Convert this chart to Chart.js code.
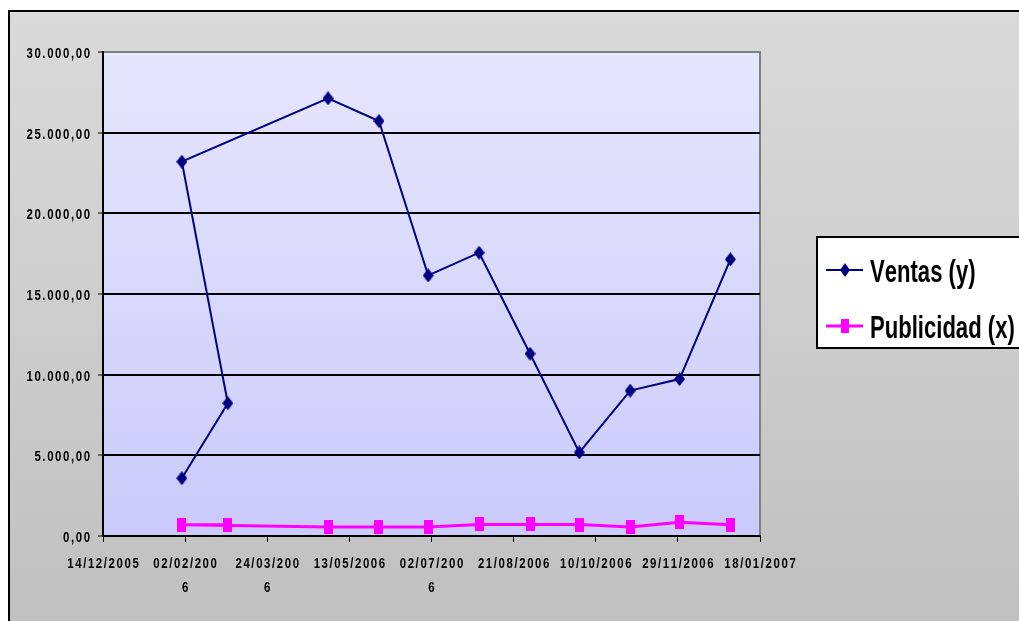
<!DOCTYPE html>
<html lang="es">
<head>
<meta charset="utf-8">
<title>Ventas y Publicidad</title>
<script src="https://cdn.jsdelivr.net/npm/chart.js@4.4.1/dist/chart.umd.min.js"></script>
<style>
  html, body { margin: 0; padding: 0; background: #ffffff; }
  #wrap { width: 1019px; height: 621px; position: relative; }
  canvas { display: block; }
</style>
</head>
<body>
<div id="wrap"><canvas id="grafico" width="1019" height="621"></canvas></div>
<script>
// Fechas de cada registro (dd/mm/aaaa)
const fechas = ['31/01/2006', '28/02/2006', '31/01/2006', '30/04/2006', '31/05/2006', '30/06/2006',
                '31/07/2006', '31/08/2006', '30/09/2006', '31/10/2006', '30/11/2006', '31/12/2006'];
// Ventas (y)
const ventas = [3580, 8230, 23200, 27130, 25720, 16150, 17560, 11300, 5180, 9010, 9730, 17150];
// Publicidad (x)
const publicidad = [700, 690, 700, 560, 560, 560, 720, 720, 710, 560, 850, 690];

// Etiquetas de los ejes
const xTickLabels = ['14/12/2005', ['02/02/200', '6'], ['24/03/200', '6'], '13/05/2006',
                     ['02/07/200', '6'], '21/08/2006', '10/10/2006', '29/11/2006', '18/01/2007'];
const yTickLabels = ['0,00', '5.000,00', '10.000,00', '15.000,00', '20.000,00', '25.000,00', '30.000,00'];

const serieNombres = ['Ventas (y)', 'Publicidad (x)'];

// El eje X cuenta días desde el 14/12/2005
const ORIGEN = Date.UTC(2005, 11, 14);
function diaDe(f) {
  const [d, m, a] = f.split('/').map(Number);
  return (Date.UTC(a, m - 1, d) - ORIGEN) / 86400000;
}
const puntos = (vals) => vals.map((v, i) => ({ x: diaDe(fechas[i]), y: v }));

const FUENTE = "'Liberation Sans', Arial, Helvetica, sans-serif";
const AZUL = '#000080';
const MAGENTA = '#ff00ff';

// Marcadores
function rombo(w, h, color) {
  const c = document.createElement('canvas');
  c.width = w; c.height = h;
  const g = c.getContext('2d');
  g.fillStyle = color;
  g.beginPath();
  g.moveTo(w / 2, 0); g.lineTo(w, h / 2); g.lineTo(w / 2, h); g.lineTo(0, h / 2);
  g.closePath(); g.fill();
  return c;
}
function rect(w, h, color) {
  const c = document.createElement('canvas');
  c.width = w; c.height = h;
  const g = c.getContext('2d');
  g.fillStyle = color;
  g.fillRect(0, 0, w, h);
  return c;
}
const marcaVentas = rombo(11, 14, AZUL);
const marcaPubli = rect(9, 14, MAGENTA);

// Texto negrita estrecho: escala horizontal + espaciado entre letras
function texto(ctx, str, x, y, size, align, sx, espacio) {
  ctx.save();
  ctx.font = 'bold ' + size + 'px ' + FUENTE;
  ctx.textBaseline = 'alphabetic';
  ctx.textAlign = 'left';
  ctx.fillStyle = '#000000';
  let ancho = 0;
  const anchos = [...str].map(ch => ctx.measureText(ch).width);
  anchos.forEach(w => { ancho += w; });
  const total = ancho * sx + espacio * (anchos.length - 1);
  let x0 = x;
  if (align === 'center') x0 = x - total / 2;
  else if (align === 'right') x0 = x - total;
  let cx = x0;
  [...str].forEach((ch, i) => {
    ctx.save();
    ctx.translate(cx, y);
    ctx.scale(sx, 1);
    ctx.fillText(ch, 0, 0);
    ctx.restore();
    cx += anchos[i] * sx + espacio;
  });
  ctx.restore();
}

// Fondo, marco, área de trazado, rótulos de ejes y leyenda
const decorado = {
  id: 'decorado',
  beforeDraw(chart) {
    const { ctx, chartArea: a } = chart;
    ctx.save();
    ctx.fillStyle = '#ffffff';
    ctx.fillRect(0, 0, chart.width, chart.height);
    const gf = ctx.createLinearGradient(0, 11, 0, chart.height);
    gf.addColorStop(0, '#dadada');
    gf.addColorStop(1, '#c0c0c0');
    ctx.fillStyle = gf;
    ctx.fillRect(9, 11, chart.width, chart.height);
    ctx.strokeStyle = '#000000';
    ctx.lineWidth = 2;
    ctx.beginPath();
    ctx.moveTo(9, chart.height + 5); ctx.lineTo(9, 11); ctx.lineTo(chart.width + 5, 11);
    ctx.stroke();
    const gp = ctx.createLinearGradient(0, a.top, 0, a.bottom);
    gp.addColorStop(0, '#e6e6fd');
    gp.addColorStop(1, '#cacafb');
    ctx.fillStyle = gp;
    ctx.fillRect(a.left, a.top, a.right - a.left, a.bottom - a.top);
    ctx.strokeStyle = '#808080';
    ctx.beginPath();
    ctx.moveTo(a.left, a.top); ctx.lineTo(a.right, a.top); ctx.lineTo(a.right, a.bottom);
    ctx.stroke();
    ctx.restore();
  },
  afterDraw(chart) {
    const ctx = chart.ctx;
    const sx = chart.scales.x, sy = chart.scales.y;

    // Rótulos del eje Y
    sy.ticks.forEach((t, i) => {
      const py = sy.getPixelForValue(t.value);
      texto(ctx, yTickLabels[i], sy.right - 13, py + 6, 15, 'right', 0.76, 1.6);
    });
    // Rótulos del eje X (algunos en dos líneas)
    sx.ticks.forEach((t, i) => {
      const px = sx.getPixelForValue(t.value);
      const lineas = [].concat(xTickLabels[i]);
      lineas.forEach((l, k) => {
        texto(ctx, l, px, sy.bottom + 32 + k * 24, 15, 'center', 0.76, 1.6);
      });
    });

    // Leyenda
    ctx.save();
    const bx = 817, by = 237, bw = 215, bh = 111;
    ctx.fillStyle = '#ffffff';
    ctx.fillRect(bx, by, bw, bh);
    ctx.strokeStyle = '#000000';
    ctx.lineWidth = 2;
    ctx.strokeRect(bx, by, bw, bh);
    const filas = [
      { y: 270, color: AZUL, marca: rombo(10, 14, AZUL), grosor: 2 },
      { y: 326, color: MAGENTA, marca: rect(8, 14, MAGENTA), grosor: 3 }
    ];
    filas.forEach((f, i) => {
      ctx.strokeStyle = f.color;
      ctx.lineWidth = f.grosor;
      ctx.beginPath();
      ctx.moveTo(826, f.y); ctx.lineTo(863, f.y);
      ctx.stroke();
      ctx.drawImage(f.marca, 845 - f.marca.width / 2, f.y - f.marca.height / 2);
      texto(ctx, serieNombres[i], 870, f.y + 12, 32, 'left', 0.69, 0);
    });
    ctx.restore();
  }
};

new Chart(document.getElementById('grafico'), {
  type: 'line',
  data: {
    datasets: [
      {
        label: serieNombres[0],
        data: puntos(ventas),
        borderColor: AZUL,
        backgroundColor: AZUL,
        borderWidth: 2,
        pointStyle: marcaVentas,
        tension: 0
      },
      {
        label: serieNombres[1],
        data: puntos(publicidad),
        borderColor: MAGENTA,
        backgroundColor: MAGENTA,
        borderWidth: 3,
        pointStyle: marcaPubli,
        tension: 0
      }
    ]
  },
  options: {
    responsive: false,
    animation: false,
    devicePixelRatio: 1,
    layout: { padding: { left: 10, top: 52, right: 259, bottom: 0 } },
    plugins: {
      legend: { display: false },
      tooltip: { enabled: false }
    },
    scales: {
      x: {
        type: 'linear',
        min: 0,
        max: 400,
        afterFit(s) { s.height = 85; },
        afterBuildTicks(s) { s.ticks = xTickLabels.map((_, i) => ({ value: i * 50 })); },
        ticks: { display: false },
        grid: { drawOnChartArea: false, drawTicks: true, tickLength: 6, color: '#000000', lineWidth: 1 },
        border: { color: '#000000', width: 2 }
      },
      y: {
        min: 0,
        max: 30000,
        afterFit(s) { s.width = 93; },
        afterBuildTicks(s) { s.ticks = yTickLabels.map((_, i) => ({ value: i * 5000 })); },
        ticks: { display: false },
        grid: {
          drawTicks: true,
          tickLength: 5,
          lineWidth: 2,
          tickWidth: 1,
          tickColor: '#000000',
          color: (c) => (c.tick && c.tick.value === 30000 ? '#808080' : '#000000')
        },
        border: { color: '#000000', width: 2 }
      }
    }
  },
  plugins: [decorado]
});
</script>
</body>
</html>
